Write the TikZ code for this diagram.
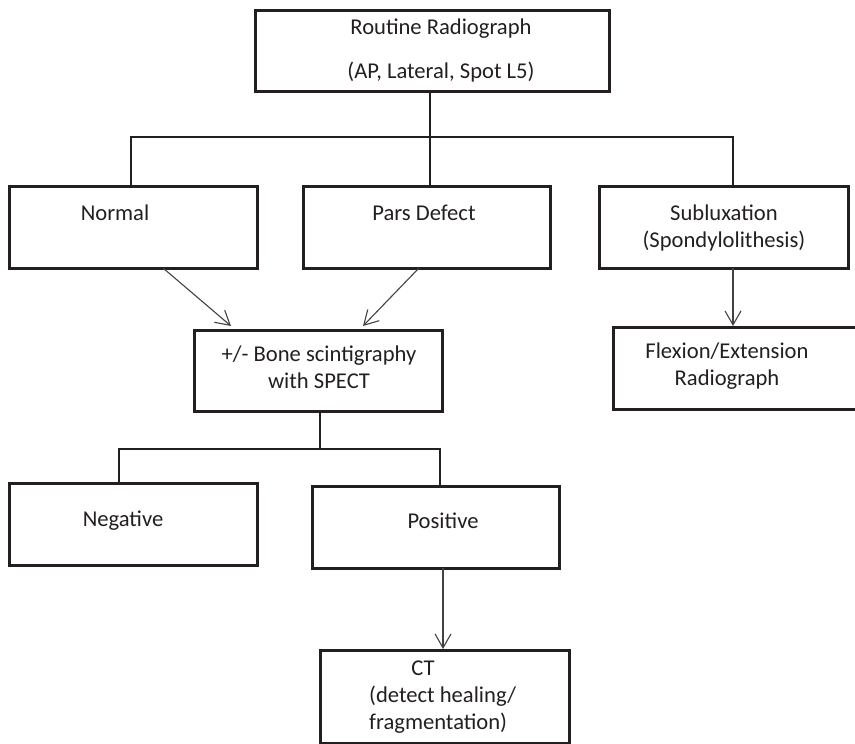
\documentclass[tikz,border=0pt]{standalone}
\usepackage{fontspec}
\setmainfont{Carlito}
\usetikzlibrary{arrows.meta}
\definecolor{ink}{HTML}{231F20}
\tikzset{
  boxnode/.style={draw=ink, line width=3.4pt, rectangle, inner sep=0pt, anchor=north west},
  txt/.style={text=ink, font=\fontsize{22.6}{27}\selectfont, inner sep=0pt, align=center},
  link/.style={draw=ink, line width=1.8pt},
  arr/.style={draw=ink!85, line width=1.1pt, -{Straight Barb[length=14pt,width=16pt,line width=1.1pt]}}
}
\begin{document}
\begin{tikzpicture}[x=1pt,y=-1pt]
\useasboundingbox (0,0) rectangle (855,744);
\begin{scope}
\clip (0,0) rectangle (855,744);
% boxes
\node[boxnode, minimum width=354pt, minimum height=81pt] (top) at (254,9) {};
\node[boxnode, minimum width=248pt, minimum height=82pt] (nrm) at (8,185) {};
\node[boxnode, minimum width=247pt, minimum height=82pt] (pars) at (302,185) {};
\node[boxnode, minimum width=249pt, minimum height=82pt] (sub) at (598,185) {};
\node[boxnode, minimum width=260pt, minimum height=82pt] (flex) at (612,326) {};
\node[boxnode, minimum width=248pt, minimum height=81pt] (bone) at (193,329) {};
\node[boxnode, minimum width=248pt, minimum height=82pt] (neg) at (8,482) {};
\node[boxnode, minimum width=247pt, minimum height=82pt] (pos) at (311,485) {};
\node[boxnode, minimum width=249pt, minimum height=93pt] (ct) at (319,649) {};
% texts
\node[txt] (tTop1) at (441,29) {Routine Radiograph};
\node[txt] (tTop2) at (441,72) {(AP, Lateral, Spot L5)};
\node[txt] (tNrm) at (115,213) {Normal};
\node[txt] (tPars) at (424,213) {Pars Defect};
\node[txt] (tSub) at (724,228) {Subluxation\\(Spondylolithesis)};
\node[txt] (tFlex) at (727,366) {Flexion/Extension\\Radiograph};
\node[txt] (tBone) at (319,367) {+/- Bone scintigraphy\\with SPECT};
\node[txt] (tNeg) at (123,521) {Negative};
\node[txt] (tPos) at (443,521) {Positive};
\node[txt] (tCT) at (423,668) {CT};
\node[txt, anchor=west, align=left] (tCT2) at (369,710) {(detect healing/\\fragmentation)};
% connectors
\coordinate (hL) at (131,137);
\coordinate (hM) at (430,137);
\coordinate (hR) at (733,137);
\draw[link] (top.south -| hM) -- (hM);
\draw[link] (hL |- nrm.north) -- (hL) -- (hR) -- (hR |- sub.north);
\draw[link] (hM) -- (hM |- pars.north);
\coordinate (nA) at (163,268);
\coordinate (nB) at (231,326);
\coordinate (pA) at (419,268);
\coordinate (pB) at (363,326);
\draw[arr] (nA) -- (nB);
\draw[arr] (pA) -- (pB);
\coordinate (sA) at (733,268);
\draw[arr] (sA) -- (sA |- flex.north);
\coordinate (bL) at (119,449);
\coordinate (bM) at (320,449);
\coordinate (bR) at (440,449);
\draw[link] (bone.south -| bM) -- (bM);
\draw[link] (bL |- neg.north) -- (bL) -- (bR) -- (bR |- pos.north);
\coordinate (qA) at (443,568);
\draw[arr] (qA) -- (qA |- ct.north);
\end{scope}
\end{tikzpicture}
\end{document}
